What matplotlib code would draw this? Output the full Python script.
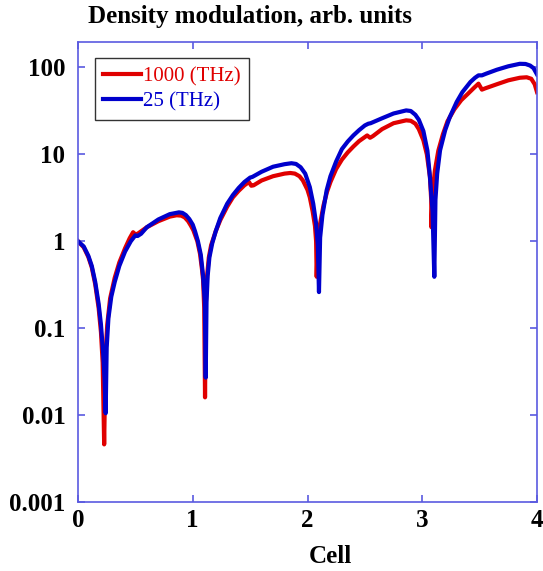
import matplotlib
matplotlib.use("Agg")
import matplotlib.pyplot as plt
from matplotlib.ticker import FixedLocator, NullLocator

# ------------------------------------------------------------
# data (log scale)
# ------------------------------------------------------------
red_label = "1000 (THz)"
red_x = [0.0, 0.05, 0.09, 0.12, 0.15, 0.18, 0.20, 0.215, 0.228, 0.24, 0.255,
         0.28, 0.32, 0.36, 0.41, 0.45, 0.48, 0.50, 0.52, 0.60, 0.70, 0.80,
         0.86, 0.90, 0.93, 0.96, 0.985, 1.005, 1.04, 1.063, 1.08, 1.09, 1.10,
         1.107, 1.115, 1.125, 1.14, 1.16, 1.20, 1.24, 1.30, 1.35, 1.40, 1.45,
         1.49, 1.51, 1.53, 1.60, 1.70, 1.80, 1.85, 1.89, 1.93, 1.96, 2.00,
         2.02, 2.045, 2.065, 2.075, 2.08, 2.09, 2.11, 2.14, 2.17, 2.20, 2.25,
         2.30, 2.35, 2.40, 2.45, 2.52, 2.545, 2.57, 2.65, 2.75, 2.86, 2.90,
         2.94, 2.97, 3.01, 3.04, 3.067, 3.078, 3.08, 3.09, 3.11, 3.14, 3.18,
         3.22, 3.28, 3.34, 3.40, 3.45, 3.49, 3.52, 3.55, 3.65, 3.75, 3.85,
         3.91, 3.95, 3.98, 4.0]
red_y = [1.0, 0.85, 0.66, 0.5, 0.32, 0.17, 0.09, 0.04, 0.0046, 0.05, 0.11,
         0.22, 0.38, 0.57, 0.83, 1.08, 1.27, 1.2, 1.22, 1.45, 1.7, 1.92,
         1.99, 1.97, 1.88, 1.7, 1.5, 1.34, 1.0, 0.72, 0.48, 0.36, 0.17,
         0.016, 0.2, 0.4, 0.65, 0.9, 1.3, 1.75, 2.5, 3.2, 3.8, 4.4,
         4.8, 4.35, 4.4, 5.0, 5.6, 6.0, 6.1, 6.0, 5.6, 5.0, 3.9,
         3.2, 2.2, 1.5, 1.0, 0.39, 1.0, 1.6, 2.6, 3.7, 4.8, 6.8,
         8.7, 10.5, 12.3, 14.2, 16.5, 15.5, 16.2, 19.5, 22.8, 24.6, 24.3,
         22.5, 19.5, 14.5, 10.0, 5.5, 3.0, 1.45, 3.5, 6.5, 11.0, 17.0,
         24.0, 33.0, 42.0, 50.0, 58.0, 65.0, 55.5, 57.5, 64.0, 71.0, 76.0,
         77.0, 74.0, 64.0, 52.0]

blue_label = "25 (THz)"
blue_x = [0.0, 0.05, 0.09, 0.12, 0.15, 0.18, 0.20, 0.22, 0.232, 0.241, 0.25,
          0.265, 0.29, 0.32, 0.36, 0.41, 0.46, 0.50, 0.52, 0.55, 0.60, 0.70,
          0.80, 0.88, 0.91, 0.94, 0.97, 1.00, 1.02, 1.045, 1.07, 1.09, 1.105,
          1.113, 1.12, 1.13, 1.145, 1.17, 1.20, 1.24, 1.30, 1.35, 1.40, 1.45,
          1.50, 1.52, 1.60, 1.70, 1.80, 1.86, 1.90, 1.94, 1.98, 2.02, 2.05,
          2.075, 2.09, 2.10, 2.11, 2.13, 2.167, 2.20, 2.25, 2.30, 2.35, 2.40,
          2.45, 2.50, 2.53, 2.55, 2.65, 2.75, 2.86, 2.90, 2.94, 2.97, 3.01,
          3.045, 3.067, 3.09, 3.105, 3.115, 3.13, 3.155, 3.20, 3.24, 3.30,
          3.35, 3.42, 3.46, 3.49, 3.52, 3.56, 3.65, 3.75, 3.85, 3.90, 3.94,
          3.97, 4.0]
blue_y = [1.0, 0.87, 0.68, 0.52, 0.34, 0.19, 0.11, 0.05, 0.025, 0.0105, 0.06,
          0.13, 0.23, 0.34, 0.52, 0.76, 1.0, 1.17, 1.15, 1.22, 1.45, 1.78,
          2.05, 2.15, 2.12, 2.0, 1.8, 1.55, 1.3, 1.0, 0.7, 0.4, 0.2,
          0.027, 0.2, 0.4, 0.65, 0.95, 1.3, 1.85, 2.7, 3.4, 4.1, 4.8,
          5.4, 5.5, 6.3, 7.2, 7.7, 7.9, 7.75, 7.1, 6.0, 4.2, 2.7,
          1.6, 0.9, 0.26, 1.1, 2.0, 3.86, 5.6, 8.3, 11.5, 14.0, 16.5,
          19.0, 21.5, 22.5, 22.8, 26.0, 29.5, 32.0, 31.5, 28.5, 25.0, 18.5,
          11.0, 5.5, 2.2, 0.39, 3.0, 6.0, 11.1, 19.0, 26.8, 40.0,
          52.0, 68.0, 76.0, 81.0, 81.0, 85.0, 94.0, 103.0, 110.0, 109.5, 105.0,
          98.0, 83.0]

x_ticks = [0, 1, 2, 3, 4]
y_ticks = [0.001, 0.01, 0.1, 1, 10, 100]
y_tick_labels = ["0.001", "0.01", "0.1", "1", "10", "100"]

RED = "#e00000"
BLUE = "#0000cc"
FRAME = "#5a5ae0"

# ------------------------------------------------------------
# figure
# ------------------------------------------------------------
plt.rcParams["font.family"] = ["Liberation Serif", "DejaVu Serif"]

fig = plt.figure(figsize=(5.43, 5.71), dpi=100)
ax = fig.add_axes([78 / 543, 1 - 502 / 571, (537 - 78) / 543, (502 - 42) / 571])

ax.plot(red_x, red_y, color=RED, linewidth=3.0, label=red_label,
        solid_joinstyle="round")
ax.plot(blue_x, blue_y, color=BLUE, linewidth=3.0, label=blue_label,
        solid_joinstyle="round")

ax.set_yscale("log")
ax.set_xlim(0, 4)
ax.set_ylim(0.001, 196)

ax.xaxis.set_major_locator(FixedLocator(x_ticks))
ax.yaxis.set_major_locator(FixedLocator(y_ticks))
ax.yaxis.set_minor_locator(NullLocator())
ax.set_yticklabels(y_tick_labels)

for sp in ax.spines.values():
    sp.set_color(FRAME)
    sp.set_linewidth(1.2)

ax.tick_params(axis="both", which="major", direction="in", length=5,
               width=1.2, color=FRAME, top=True, right=True,
               labelsize=18)
ax.tick_params(axis="x", pad=5)
ax.tick_params(axis="y", pad=9)
for lab in ax.get_xticklabels() + ax.get_yticklabels():
    lab.set_fontweight("bold")

leg = ax.legend(loc="upper left", bbox_to_anchor=(0.036, 0.965),
                fontsize=15, handlelength=1.85, handletextpad=0.1,
                borderaxespad=0.0, borderpad=0.4, labelspacing=0.28,
                fancybox=False, framealpha=1.0, edgecolor="#333333")
leg.get_frame().set_linewidth(1.0)
for txt, col in zip(leg.get_texts(), [RED, BLUE]):
    txt.set_color(col)

fig.text(88 / 543, 1 - 23 / 571, "Density modulation, arb. units",
         fontsize=18, fontweight="bold", ha="left", va="baseline")
fig.text(330 / 543, 1 - 563 / 571, "Cell",
         fontsize=18, fontweight="bold", ha="center", va="baseline")

fig.savefig("out.png", dpi=100)
